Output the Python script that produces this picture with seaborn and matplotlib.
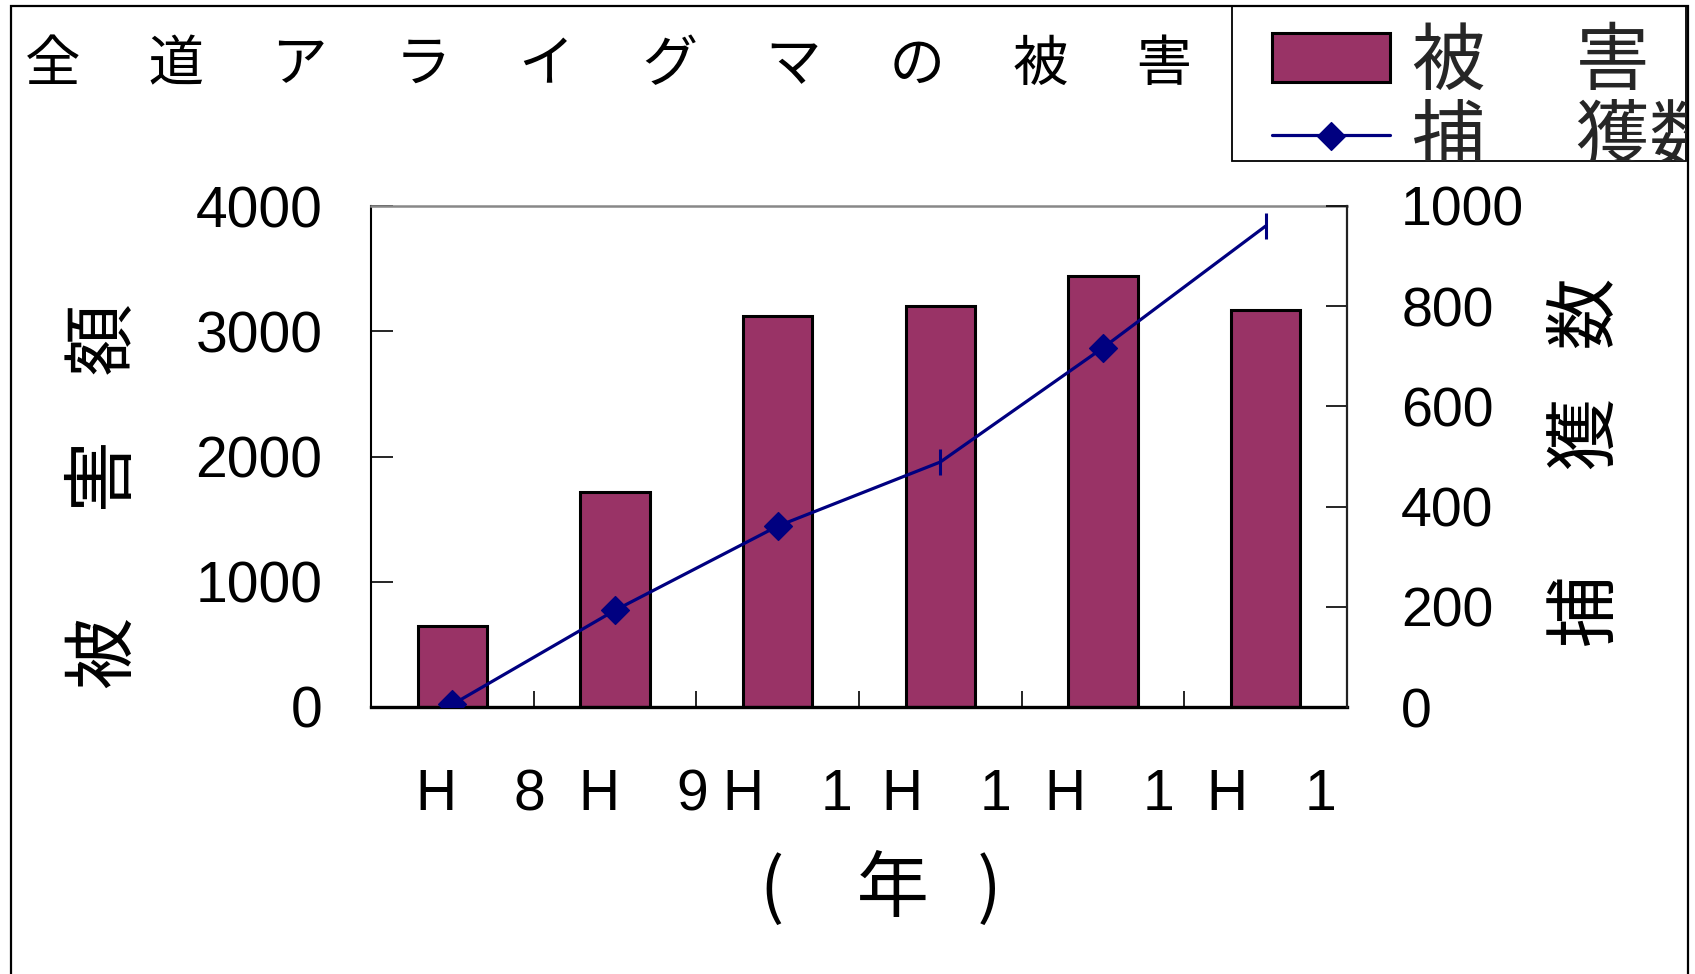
import matplotlib
matplotlib.use("Agg")
import matplotlib.pyplot as plt
import matplotlib.transforms as mtransforms
from matplotlib.patches import Rectangle
from matplotlib.legend_handler import HandlerTuple
import seaborn as sns
import pandas as pd

# ---- data -------------------------------------------------------------
years = ["H　8", "H　9", "H　1", "H　1", "H　1", "H　1"]
damage = [650, 1720, 3120, 3200, 3440, 3170]          # 被害額
captures = [5, 193, 361, 489, 717, 960]               # 捕獲数
diamond_idx = [0, 1, 2, 4]                            # points drawn as diamonds
tick_idx = [3, 5]                                     # points drawn as bars "|"

title = "全　 道　 ア　 ラ　 イ　 グ　 マ　 の　 被　 害"
left_label = "被　  害    額"
right_label = "捕　  獲   数"
x_label = "(　年   )"
legend_labels = ["被　 害", "捕　 獲数"]

left_ticks = [0, 1000, 2000, 3000, 4000]
right_ticks = [0, 200, 400, 600, 800, 1000]

BAR = "#993366"
NAVY = "#000080"

# ---- style ------------------------------------------------------------
sns.set_style("white")
plt.rcParams["font.family"] = ["Liberation Sans", "Noto Sans CJK JP", "DejaVu Sans"]
CJK = ["Noto Sans CJK JP", "DejaVu Sans"]

W, H = 1695, 974
fig = plt.figure(figsize=(W / 100, H / 100), dpi=100, facecolor="white")

ax = fig.add_axes([371 / W, 1 - 707 / H, (1347 - 371) / W, (707 - 206) / H])

pos = list(range(len(years)))
df = pd.DataFrame({"pos": pos, "damage": damage, "captures": captures})

sns.barplot(data=df, x="pos", y="damage", color=BAR, saturation=1,
            width=0.425, errorbar=None, edgecolor="black", linewidth=2.2,
            ax=ax)
ax.set_ylim(0, 4000)
ax.set_yticks(left_ticks)
ax.set_xlim(-0.5, len(years) - 0.5)
ax.set_xticks(pos, years)
ax.set_xticks([p + 0.5 for p in pos[:-1]], minor=True)

ax2 = ax.twinx()
sns.lineplot(data=df, x="pos", y="captures", color=NAVY, linewidth=2.3, ax=ax2)
diamonds = ax2.scatter(df["pos"].iloc[diamond_idx], df["captures"].iloc[diamond_idx],
                       marker="D", s=200, color=NAVY, zorder=3)
ax2.plot(df["pos"].iloc[tick_idx], df["captures"].iloc[tick_idx], linestyle="none",
         marker="|", markersize=19, markeredgewidth=2.2, color=NAVY)
ax2.set_ylim(0, 1000)
ax2.set_yticks(right_ticks)
ax2.set_xlim(-0.5, len(years) - 0.5)

# ---- spines & ticks ---------------------------------------------------
for name, sp in ax.spines.items():
    sp.set_visible(name in ("left", "bottom", "top"))
ax.spines["left"].set_color("black")
ax.spines["left"].set_linewidth(1.5)
ax.spines["bottom"].set_color("black")
ax.spines["bottom"].set_linewidth(2.4)
ax.spines["top"].set_color("#888888")
ax.spines["top"].set_linewidth(1.8)
for name, sp in ax2.spines.items():
    sp.set_visible(name == "right")
ax2.spines["right"].set_color("#222222")
ax2.spines["right"].set_linewidth(1.6)

ax.tick_params(axis="y", direction="in", left=True, length=16, width=1.2,
               pad=35, labelsize=41, colors="black")
ax.tick_params(axis="x", which="major", bottom=True, length=0, pad=44,
               labelsize=41, labelcolor="black")
ax.tick_params(axis="x", which="minor", bottom=True, direction="in",
               length=11.5, width=1.2, color="black")
ax2.tick_params(axis="y", direction="in", right=True, length=15, width=1.2,
                pad=39, labelsize=40, colors="black")

# small horizontal nudges (pixels) for the category labels
label_nudge = [29, 29, 10, 7, 7, 6]
for lab, dx in zip(ax.get_xticklabels(), label_nudge):
    shift = mtransforms.ScaledTranslation(dx / 100, 0, fig.dpi_scale_trans)
    lab.set_transform(lab.get_transform() + shift)

# ---- labels -----------------------------------------------------------
ax.set_xlabel(x_label, fontsize=52, family=CJK, color="black")
ax.xaxis.set_label_coords(0.522, -0.365)
ax.xaxis.label.set_va("center")

ax.set_ylabel(left_label, fontsize=52, family=CJK, color="black")
ax.yaxis.set_label_coords(-0.2725, 0.421)
ax.yaxis.label.set_va("center")

ax2.set_ylabel(right_label, fontsize=52, family=CJK, color="black")
ax2.yaxis.set_label_coords(1.246, 0.489)
ax2.yaxis.label.set_va("center")

fig.text(25 / W, 1 - 65 / H, title, fontsize=40, family=CJK,
         ha="left", va="center", color="black")

# ---- chart frame and legend ------------------------------------------
outer = Rectangle((11 / W, -0.05), (1688 - 11) / W, 1.05 - 6 / H,
                  transform=fig.transFigure, fill=False, ec="black", lw=1.6)
fig.add_artist(outer)

leg_box = Rectangle((1232 / W, 1 - 161 / H), (1686 - 1232) / W, (161 - 6) / H,
                    transform=fig.transFigure, fill=False, ec="black", lw=1.3)
fig.add_artist(leg_box)

bars = ax.containers[0]
line = ax2.lines[0]
leg = fig.legend([bars, (line, diamonds)], legend_labels,
                 loc="upper left", bbox_to_anchor=(1272 / W, 1 - 25 / H),
                 frameon=False, borderpad=0, borderaxespad=0,
                 handlelength=1.6, handleheight=0.65, handletextpad=0.3,
                 labelspacing=0.02, scatterpoints=1, scatteryoffsets=[0.5],
                 prop={"family": CJK, "size": 53},
                 handler_map={tuple: HandlerTuple(ndivide=1, pad=0)})
for t in leg.get_texts():
    t.set_clip_path(leg_box)

fig.savefig("out.png", dpi=100, facecolor="white")
